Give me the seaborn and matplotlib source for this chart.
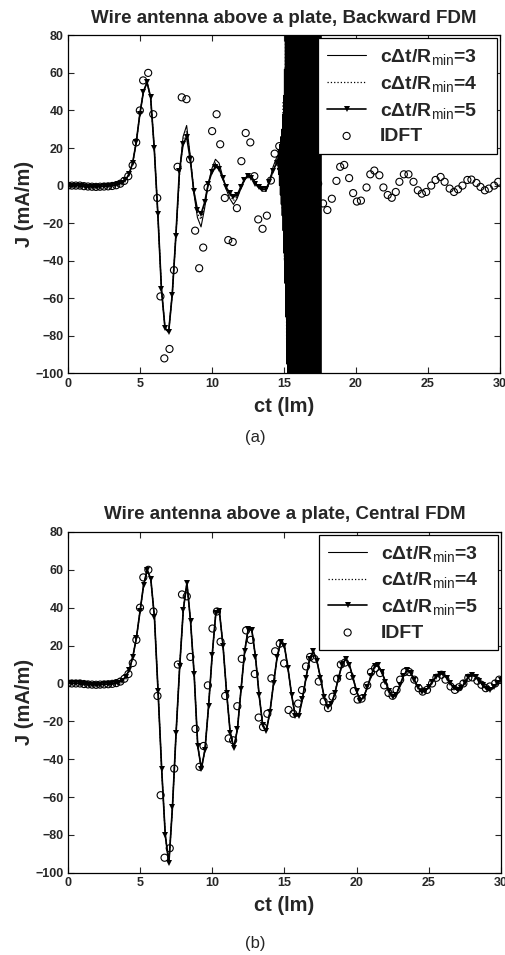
import numpy as np
import matplotlib
matplotlib.use('Agg')
import matplotlib.pyplot as plt
import seaborn as sns

# ---- data (ct in lm, J in mA/m) ----
# panel (a): shared part of the three FDM curves, ct = 0 .. 7.5 step 0.25
A_EARLY = [0, 0, 0, 0, -0.3, -0.5, -0.6, -0.7, -0.6, -0.5, -0.4, -0.3, -0.1, 0.2, 0.6,
           1.5, 3, 6, 12, 23, 38, 50, 55, 47, 20, -15, -55, -76, -78, -58, -27]
# ct = 7.75 .. 14.5 step 0.25
A_TAIL3 = [6, 26, 32, 16, -4, -17, -22, -12, 1, 9, 14, 12, 5, -2, -7, -10, -7, -2,
           3, 6, 5, 2, -1, -3, -3, 2, 10, 15]
A_TAIL4 = [5, 24, 29, 15, -3, -15, -18, -10, 1, 8, 12, 10, 4, -1, -5, -8, -6, -1,
           3, 5, 5, 2, -1, -2, -3, 2, 9, 14]
# ct = 7.75 .. 15.0 step 0.25
A_TAIL5 = [8, 22, 26, 14, -3, -13, -15, -9, 1, 7, 10, 9, 4, -1, -4, -6, -5, -1,
           3, 5, 4, 1, -1, -2, -2, 2, 8, 12, 18, 20]
# unstable blow-up of the backward scheme, ct 14.6 .. 17.6
A_BURST3 = [16, 6, 19, 0, 22, -5, 26, -10, 30, -16, 38, -24, 48, -36, 62, -52,
            80, -70, 100, -95, 130, -125, 160, -150, 180, -170, 190, -185, 195, -190,
            200, -195, 200, -200, 205, -200, 210, -205, 210, -210, 215, -210, 215, -215,
            220, -215, 220, -220, 220, -220, 225, -220, 225, -225, 225, -225, 230, -225,
            230, -230, 230, -230, 235, -230, 235, -235, 235, -235, 240, -235, 240, -240,
            240, -240, 245, -240, 245, -245, 245, -245, 250, -245, 250, -250, 250, -250,
            255, -250, 255, -255, 255, -255, 260, -255, 260, -260]
A_BURST4 = [13, 8, 17, 2, 24, -12, 45, -40, 85, -88, 120, -130, 150, -160, 170, -170,
            180, -180, 185, -185, 190, -190, 195, -195, 200, -200, 205, -205, 210, -210,
            215, -215, 220, -220, 225, -225, 230, -230, 235, -235]

# panel (b): central FDM, ct = 0 .. 30 step 0.25 (the three curves coincide)
B_J = [0, 0, 0, 0, -0.3, -0.5, -0.6, -0.7, -0.7, -0.6, -0.5, -0.4, -0.3, 0, 0.5,
       1.5, 3.5, 7, 14, 24, 38, 52, 60, 55, 35, -4, -45, -80, -95, -65, -26,
       9, 39, 53, 33, 5, -33, -45, -35, -12, 15, 37, 38, 20, -5, -26, -34, -24,
       -3, 17, 29, 28, 14, -6, -22, -25, -15, 0, 14, 22, 20, 8, -6, -17, -17, -8,
       3, 13, 17, 12, 3, -7, -12.5, -11, -5, 3, 10, 13, 10, 3, -4, -9, -7, -2,
       4, 9, 9.5, 6, 1, -4, -7, -6, -1, 4, 7, 5.5, 2, -2, -4.4, -4, -2, 1,
       3.5, 5.2, 5, 3, 0, -2.5, -3.5, -2.5, 0.5, 3.5, 4.4, 3.5, 1.5, -1, -3, -3.5,
       -2, 0, 1.8]

# IDFT reference (same in both panels)
IDFT_T = [0.00, 0.28, 0.56, 0.84, 1.12, 1.40, 1.68, 1.96, 2.24, 2.52, 2.80, 3.08, 3.36,
          3.64, 3.92, 4.20, 4.50, 4.75, 5.00, 5.23, 5.58, 5.93, 6.21, 6.43, 6.70, 7.06,
          7.37, 7.62, 7.91, 8.24, 8.49, 8.84, 9.12, 9.40, 9.70, 10.02, 10.33, 10.58,
          10.90, 11.14, 11.45, 11.74, 12.05, 12.35, 12.67, 12.95, 13.22, 13.52, 13.82,
          14.10, 14.36, 14.68, 14.98, 15.29, 15.62, 15.95, 16.22, 16.50, 16.78, 17.08,
          17.38, 17.72, 18.02, 18.33, 18.65, 18.91, 19.19, 19.53, 19.81, 20.07, 20.35,
          20.74, 21.00, 21.28, 21.63, 21.91, 22.21, 22.49, 22.77, 23.02, 23.33, 23.65,
          24.00, 24.30, 24.58, 24.88, 25.23, 25.53, 25.88, 26.16, 26.51, 26.81, 27.09,
          27.40, 27.74, 28.02, 28.37, 28.65, 28.95, 29.23, 29.60, 29.88]
IDFT_J = [0, 0, 0, 0, -0.3, -0.5, -0.6, -0.7, -0.6, -0.5, -0.4, -0.2, 0.2,
          1, 2.5, 5, 10.8, 23, 40, 56, 60, 38, -6.6, -59, -92, -87,
          -45, 10, 47, 46, 14, -24, -44, -33, -1, 29, 38, 22,
          -6.6, -29, -30, -12, 13, 28, 23, 5, -18, -23, -16,
          2.7, 17, 21, 10.6, -14, -16, -10.6, -3.5, 9, 14, 13,
          1, -9.5, -13, -7, 2.5, 10, 11, 4, -4, -8.5, -8,
          -1, 6, 8, 5.5, -1, -5, -6.5, -3.4, 2, 6, 6,
          2, -2.5, -4.3, -3.4, 0, 3, 4.6, 2, -1.6, -3.4, -2,
          0, 3, 3.2, 1.4, -0.7, -2.5, -1.6, 0, 2]

LABELS = ['c\u0394t/R$_{\\mathrm{min}}$=3   ', 'c\u0394t/R$_{\\mathrm{min}}$=4   ',
          'c\u0394t/R$_{\\mathrm{min}}$=5   ', 'IDFT']
TITLES = ['Wire antenna above a plate, Backward FDM', 'Wire antenna above a plate, Central FDM']

sns.set_style('ticks')
plt.rcParams['font.family'] = ['Liberation Sans', 'DejaVu Sans']
plt.rcParams['mathtext.fontset'] = 'custom'
plt.rcParams['mathtext.rm'] = 'Liberation Sans'
plt.rcParams['mathtext.default'] = 'regular'

fig = plt.figure(figsize=(5.06, 9.55), dpi=100)
ax_a = fig.add_axes([0.134, 0.609, 0.854, 0.354])
ax_b = fig.add_axes([0.134, 0.086, 0.856, 0.357])

t34 = np.arange(0, 14.51, 0.25)
t5 = np.arange(0, 15.01, 0.25)
tb3 = np.linspace(14.6, 17.6, len(A_BURST3))
tb4 = np.linspace(14.5, 17.5, len(A_BURST4))
tB = np.arange(0, 30.01, 0.25)

# (a) backward FDM
x3 = np.concatenate([t34, tb3])
y3 = np.array(A_EARLY + A_TAIL3 + A_BURST3, dtype=float)
x4 = np.concatenate([t34, tb4])
y4 = np.array(A_EARLY + A_TAIL4 + A_BURST4, dtype=float)
y5 = np.array(A_EARLY + A_TAIL5, dtype=float)

def draw(ax, xs3, ys3, xs4, ys4, xs5, ys5):
    sns.lineplot(x=xs3, y=ys3, ax=ax, color='k', lw=0.8, sort=False, estimator=None,
                 label=LABELS[0])
    sns.lineplot(x=xs4, y=ys4, ax=ax, color='k', lw=0.9, ls=':', sort=False,
                 estimator=None, label=LABELS[1])
    sns.lineplot(x=xs5, y=ys5, ax=ax, color='k', lw=1.2, marker='v', markersize=5,
                 markeredgewidth=0, sort=False, estimator=None, label=LABELS[2])
    sns.scatterplot(x=IDFT_T, y=IDFT_J, ax=ax, marker='o', s=26, facecolor='none',
                    edgecolor='k', linewidth=0.8, label=LABELS[3], zorder=3)

draw(ax_a, x3, y3, x4, y4, t5, y5)
draw(ax_b, tB, B_J, tB, B_J, tB, B_J)

for ax, title in zip([ax_a, ax_b], TITLES):
    ax.set_xlim(0, 30)
    ax.set_ylim(-100, 80)
    ax.set_xticks(range(0, 31, 5))
    ax.set_yticks(range(-100, 81, 20))
    ax.tick_params(direction='in', top=True, right=True, length=4, width=0.8,
                   labelsize=9, pad=3)
    for lab in ax.get_xticklabels() + ax.get_yticklabels():
        lab.set_fontweight('bold')
    for s in ax.spines.values():
        s.set_linewidth(0.9)
        s.set_color('k')
    ax.set_title(title, fontsize=13.5, fontweight='bold', pad=9)
    ax.set_xlabel('ct (lm)', fontsize=14.5, fontweight='bold', labelpad=5)
    ax.set_ylabel('J (mA/m)', fontsize=14.5, fontweight='bold', labelpad=1)
    leg = ax.legend(loc='upper right', frameon=True, fancybox=False,
                    edgecolor='k', framealpha=1, handlelength=2.0, handletextpad=0.7,
                    labelspacing=0.35, borderpad=0.45, borderaxespad=0.15,
                    scatterpoints=1, prop={'weight': 'bold', 'size': 14})
    leg.get_frame().set_linewidth(0.9)

fig.text(0.504, 0.542, '(a)', ha='center', va='center', fontsize=12)
fig.text(0.504, 0.012, '(b)', ha='center', va='center', fontsize=12)

fig.savefig('out.png', dpi=100, facecolor='white')
